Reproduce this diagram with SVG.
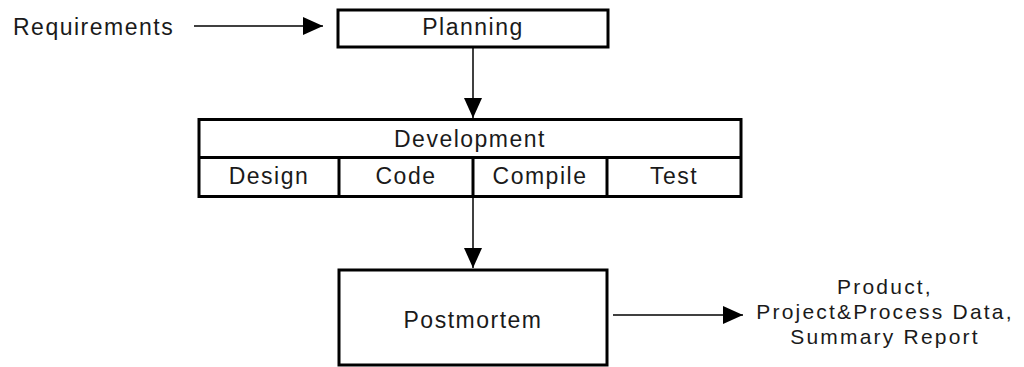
<svg xmlns="http://www.w3.org/2000/svg" width="1024" height="367" viewBox="0 0 1024 367">
<style>
.box{fill:#fff;stroke:#000;stroke-width:3}
.div{stroke:#000;stroke-width:3;fill:none}
.conn{stroke:#000;stroke-width:1.5;fill:none}
text{font-family:"Liberation Sans",Arial,sans-serif;font-size:23px;fill:#1a1a1a;letter-spacing:1.5px}
.c{text-anchor:middle}
.o{font-size:21px;letter-spacing:2.2px}
</style>
<defs>
<marker id="arr" markerUnits="userSpaceOnUse" markerWidth="20" markerHeight="18" refX="20" refY="9" orient="auto">
<path d="M0,0 L20,9 L0,18 z" fill="#000"/>
</marker>
</defs>
<g id="requirements"><text x="13" y="35">Requirements</text></g>
<g id="planning">
<rect class="box" x="338" y="10" width="270" height="37"/>
<text class="c" x="473" y="35">Planning</text>
</g>
<g id="development">
<rect class="box" x="199" y="119.5" width="542" height="77"/>
<line class="div" x1="199" y1="157.5" x2="741" y2="157.5"/>
<line class="div" x1="339" y1="157.5" x2="339" y2="196.5"/>
<line class="div" x1="473" y1="157.5" x2="473" y2="196.5"/>
<line class="div" x1="607" y1="157.5" x2="607" y2="196.5"/>
<text class="c" x="470" y="147">Development</text>
<text class="c" x="269" y="184">Design</text>
<text class="c" x="406" y="184">Code</text>
<text class="c" x="540" y="184">Compile</text>
<text class="c" x="674" y="184">Test</text>
</g>
<g id="postmortem">
<rect class="box" x="339" y="270" width="268" height="95"/>
<text class="c" x="473" y="328">Postmortem</text>
</g>
<g id="outputs">
<text class="c o" x="885" y="294">Product,</text>
<text class="c o" x="885" y="319">Project&amp;Process Data,</text>
<text class="c o" x="885" y="344">Summary Report</text>
</g>
<g id="connectors">
<line class="conn" x1="194" y1="26" x2="323" y2="26" marker-end="url(#arr)"/>
<line class="conn" x1="473" y1="48" x2="473" y2="118" marker-end="url(#arr)"/>
<line class="conn" x1="473" y1="197" x2="473" y2="268" marker-end="url(#arr)"/>
<line class="conn" x1="613" y1="315" x2="743" y2="315" marker-end="url(#arr)"/>
</g>
</svg>
